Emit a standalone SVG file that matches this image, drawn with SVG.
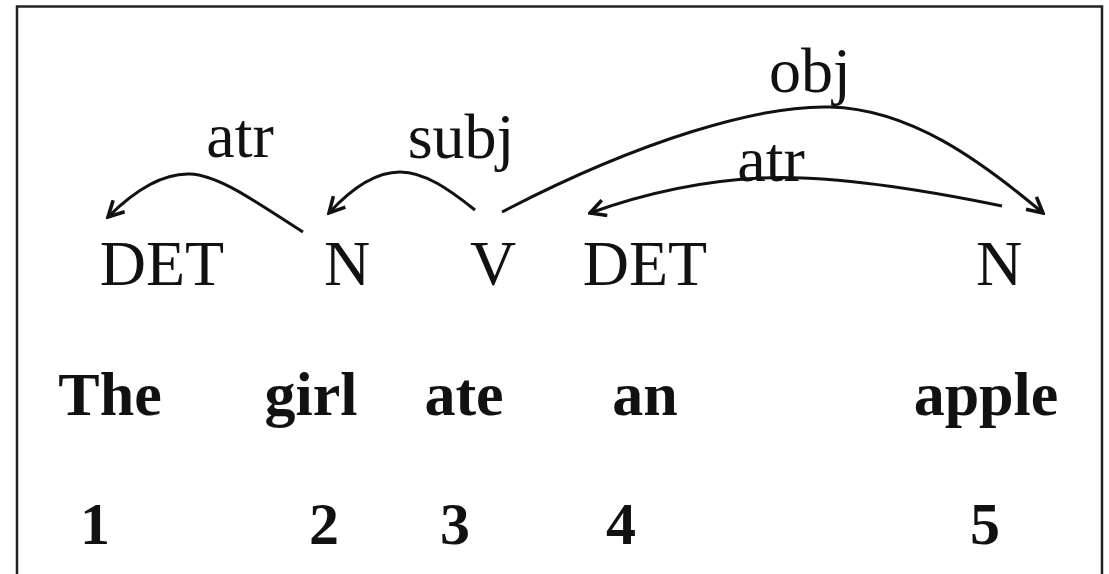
<svg xmlns="http://www.w3.org/2000/svg" width="1109" height="574" viewBox="0 0 1109 574">
<style>
.tag{font-family:"Liberation Serif","Times New Roman",serif;font-size:64px;fill:#111;text-anchor:middle}
.word{font-family:"Liberation Serif","Times New Roman",serif;font-size:62px;font-weight:bold;fill:#111;text-anchor:middle}
.num{font-family:"Liberation Serif","Times New Roman",serif;font-size:60px;font-weight:bold;fill:#111;text-anchor:middle}
.arc{fill:none;stroke:#111;stroke-width:3;marker-end:url(#ah)}
</style>
<defs>
<marker id="ah" viewBox="0 0 12 12" refX="10.5" refY="6" markerWidth="6.5" markerHeight="6.5" markerUnits="strokeWidth" orient="auto">
<path d="M1,1 L10.5,6 L1,11" fill="none" stroke="#111" stroke-width="2.2" stroke-linejoin="miter"/>
</marker>
</defs>
<rect x="0" y="0" width="1109" height="574" fill="#fff"/>
<rect x="17" y="6.5" width="1085" height="600" fill="none" stroke="#222" stroke-width="2.5"/>
<g id="connectors">
<path class="arc" d="M303,232 C260,205 220,175 190,174 C160,173 130,195 108,217"/>
<path class="arc" d="M475,210 C450,190 425,172 400,172 C375,172 350,190 329,213"/>
<path class="arc" d="M502,212 C640,140 760,105 830,107 C910,109 980,160 1043,213"/>
<path class="arc" d="M1002,206 C900,185 820,175 760,178 C700,181 640,195 590,213"/>
<text class="tag" x="240" y="157">atr</text>
<text class="tag" x="461" y="158">subj</text>
<text class="tag" x="810" y="92">obj</text>
<text class="tag" x="771" y="181">atr</text>
</g>
<g id="n1"><text class="tag" x="162" y="285">DET</text><text class="word" x="110" y="415">The</text><text class="num" x="95" y="544">1</text></g>
<g id="n2"><text class="tag" x="347" y="285">N</text><text class="word" x="311" y="415">girl</text><text class="num" x="324" y="544">2</text></g>
<g id="n3"><text class="tag" x="493" y="285">V</text><text class="word" x="464" y="415">ate</text><text class="num" x="455" y="544">3</text></g>
<g id="n4"><text class="tag" x="645" y="285">DET</text><text class="word" x="645" y="415">an</text><text class="num" x="621" y="544">4</text></g>
<g id="n5"><text class="tag" x="999" y="285">N</text><text class="word" x="986" y="415">apple</text><text class="num" x="985" y="544">5</text></g>
</svg>
